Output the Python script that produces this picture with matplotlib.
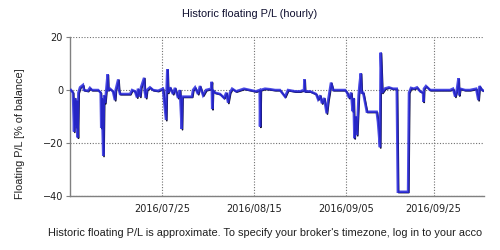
import matplotlib
matplotlib.use("Agg")
import matplotlib.pyplot as plt
import matplotlib.dates as mdates
import matplotlib.transforms as mtransforms
import pandas as pd

title = "Historic floating P/L (hourly)"
ylabel = "Floating P/L [% of balance]"
footer = "Historic floating P/L is approximate. To specify your broker's timezone, log in to your acco"

timestamps = [
    "2016-07-04 05:00", "2016-07-04 16:00", "2016-07-04 22:00", "2016-07-05 03:00", "2016-07-05 09:00",
    "2016-07-05 13:00", "2016-07-05 18:00", "2016-07-05 22:00", "2016-07-06 07:00", "2016-07-06 23:00",
    "2016-07-07 04:00", "2016-07-08 02:00", "2016-07-08 13:00", "2016-07-09 00:00", "2016-07-10 10:00",
    "2016-07-11 00:00", "2016-07-11 03:00", "2016-07-11 06:00", "2016-07-11 14:00", "2016-07-11 18:00",
    "2016-07-12 00:00", "2016-07-12 05:00", "2016-07-12 14:00", "2016-07-12 17:00", "2016-07-13 03:00",
    "2016-07-13 19:00", "2016-07-14 06:00", "2016-07-14 10:00", "2016-07-15 00:00", "2016-07-15 04:00",
    "2016-07-15 10:00", "2016-07-17 17:00", "2016-07-18 04:00", "2016-07-18 20:00", "2016-07-19 07:00",
    "2016-07-19 12:00", "2016-07-20 00:00", "2016-07-20 05:00", "2016-07-20 22:00", "2016-07-21 01:00",
    "2016-07-21 08:00", "2016-07-21 13:00", "2016-07-22 06:00", "2016-07-22 23:00", "2016-07-24 02:00",
    "2016-07-25 05:00", "2016-07-25 22:00", "2016-07-26 01:00", "2016-07-26 05:00", "2016-07-26 09:00",
    "2016-07-26 20:00", "2016-07-27 12:00", "2016-07-27 23:00", "2016-07-28 16:00", "2016-07-29 02:00",
    "2016-07-29 12:00", "2016-07-29 15:00", "2016-07-31 20:00", "2016-08-01 02:00", "2016-08-01 13:00",
    "2016-08-02 05:00", "2016-08-02 16:00", "2016-08-03 09:00", "2016-08-04 01:00", "2016-08-05 05:00",
    "2016-08-05 08:00", "2016-08-05 11:00", "2016-08-05 14:00", "2016-08-06 02:00", "2016-08-07 06:00",
    "2016-08-08 04:00", "2016-08-08 16:00", "2016-08-09 02:00", "2016-08-09 12:00", "2016-08-10 00:00",
    "2016-08-10 22:00", "2016-08-11 19:00", "2016-08-12 17:00", "2016-08-14 02:00", "2016-08-15 11:00",
    "2016-08-16 07:00", "2016-08-16 09:00", "2016-08-16 12:00", "2016-08-17 12:00", "2016-08-18 16:00",
    "2016-08-19 19:00", "2016-08-20 22:00", "2016-08-22 02:00", "2016-08-22 18:00", "2016-08-24 09:00",
    "2016-08-25 12:00", "2016-08-26 10:00", "2016-08-26 12:00", "2016-08-26 15:00", "2016-08-27 19:00",
    "2016-08-29 04:00", "2016-08-29 15:00", "2016-08-30 02:00", "2016-08-30 12:00", "2016-08-31 00:00",
    "2016-08-31 14:00", "2016-08-31 22:00", "2016-09-01 14:00", "2016-09-02 01:00", "2016-09-04 19:00",
    "2016-09-05 06:00", "2016-09-05 17:00", "2016-09-06 04:00", "2016-09-06 12:00", "2016-09-06 17:00",
    "2016-09-06 22:00", "2016-09-07 04:00", "2016-09-07 12:00", "2016-09-07 21:00", "2016-09-08 02:00",
    "2016-09-08 09:00", "2016-09-08 13:00", "2016-09-08 22:00", "2016-09-09 18:00", "2016-09-12 00:00",
    "2016-09-12 07:00", "2016-09-12 18:00", "2016-09-12 22:00", "2016-09-13 06:00", "2016-09-13 22:00",
    "2016-09-14 19:00", "2016-09-15 17:00", "2016-09-16 14:00", "2016-09-16 20:00", "2016-09-19 04:00",
    "2016-09-19 09:00", "2016-09-19 20:00", "2016-09-20 12:00", "2016-09-21 05:00", "2016-09-21 22:00",
    "2016-09-22 14:00", "2016-09-22 16:00", "2016-09-22 19:00", "2016-09-23 06:00", "2016-09-24 05:00",
    "2016-09-26 12:00", "2016-09-28 18:00", "2016-09-29 10:00", "2016-09-29 22:00", "2016-09-30 08:00",
    "2016-09-30 16:00", "2016-09-30 19:00", "2016-10-01 01:00", "2016-10-02 04:00", "2016-10-03 07:00",
    "2016-10-04 17:00", "2016-10-05 05:00", "2016-10-05 11:00", "2016-10-06 01:00", "2016-10-06 12:00",
]

pl_values = [
    0.0, -1.0, -15.7, -3.0, -14.0,
    -4.0, -17.9, -1.0, 1.0, 1.9,
    0.0, -0.3, 0.8, 0.0, 0.0,
    -1.0, -14.3, -3.0, -24.8, -2.0,
    -4.9, -1.0, 5.9, 0.0, 0.5,
    -0.5, -3.8, 0.0, 4.0, 0.0,
    -1.5, -1.5, 0.0, -0.5, -2.8,
    0.5, -2.5, 1.0, 4.6, -0.5,
    -3.0, 0.0, 1.0, 0.0, -0.3,
    0.5, -11.3, 0.0, 7.9, -1.0,
    1.0, -1.5, 0.8, -3.0, 0.0,
    -14.7, -2.5, -2.5, 0.0, 1.0,
    -1.5, 1.5, -2.0, 0.0, 0.5,
    3.1, -7.2, 0.0, -1.0, -1.5,
    -3.0, -1.0, -4.8, -1.0, 0.5,
    -0.5, 0.0, 0.5, 0.0, -0.5,
    0.0, -13.8, 0.0, 0.5, 0.3,
    0.0, 0.0, -2.5, 0.0, -0.5,
    -0.5, 0.0, 4.0, -0.5, -0.5,
    -1.5, -3.5, -2.0, -5.0, -3.0,
    -8.8, -4.0, 2.8, 0.0, 0.0,
    -1.0, -3.0, -1.0, -8.0, -3.0,
    -18.2, -10.0, -17.0, -2.0, 2.0,
    6.3, -1.0, -1.0, -8.2, -8.2,
    -12.0, -21.6, 14.1, -1.0, 0.6,
    1.0, 0.5, 0.5, -38.4, -38.4,
    -1.0, 0.8, 0.5, 1.0, -0.5,
    -1.0, -4.4, 0.5, 1.5, 0.0,
    0.0, 0.0, 0.5, -2.5, 0.5,
    4.4, -2.0, 0.5, 0.0, 0.0,
    0.5, -3.8, 1.5, 0.0, -0.3,
]

x_ticks = ["2016-07-25", "2016-08-15", "2016-09-05", "2016-09-25"]
y_ticks = [-40, -20, 0, 20]

times = pd.to_datetime(timestamps)
tick_dates = pd.to_datetime(x_ticks)

fig = plt.figure(figsize=(5, 2.5), dpi=100)
ax = fig.add_axes([0.14, 0.216, 0.828, 0.636])

shadow = mtransforms.offset_copy(ax.transData, fig=fig, x=0.8, y=-0.8, units="dots")
ax.plot(times, pl_values, color="#101030", lw=1.2, transform=shadow, zorder=3)
ax.plot(times, pl_values, color="#2b2be0", lw=1.8, alpha=0.85, zorder=4,
        solid_joinstyle="miter")

ax.set_xlim(pd.Timestamp("2016-07-04 00:00"), pd.Timestamp("2016-10-06 12:00"))
ax.set_ylim(-40, 20)
ax.set_yticks(y_ticks)
ax.set_xticks(tick_dates)
ax.xaxis.set_major_formatter(mdates.DateFormatter("%Y/%m/%d"))

ax.grid(True, color="#707070", linestyle=(0, (1, 1.5)), linewidth=0.8)
for s in ["top", "right"]:
    ax.spines[s].set_visible(False)
for s in ["left", "bottom"]:
    ax.spines[s].set_color("#808080")
    ax.spines[s].set_linewidth(1.0)

ax.tick_params(axis="y", length=3, color="#808080", labelsize=7, labelcolor="#202020", pad=2)
ax.tick_params(axis="x", length=0, labelsize=7, labelcolor="#202020", pad=6)

fig.text(0.5, 0.944, title, ha="center", va="center", fontsize=7.9,
         family="Liberation Sans", color="#101030")
fig.text(0.04, 0.466, ylabel, ha="center", va="center", rotation=90, fontsize=7.8,
         family="Liberation Sans", color="#202020")
fig.text(0.095, 0.068, footer, ha="left", va="center", fontsize=7.9,
         family="Liberation Sans", color="#202020")

fig.savefig("out.png", dpi=100)
